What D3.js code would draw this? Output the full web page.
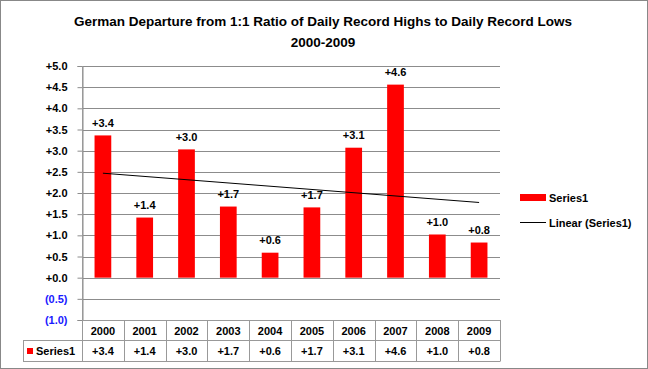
<!DOCTYPE html>
<html><head><meta charset="utf-8">
<script src="https://cdn.jsdelivr.net/npm/d3@7"></script>
<style>body{margin:0;background:#fff}svg{display:block}text{font-family:"Liberation Sans",Arial,sans-serif}</style>
</head><body><svg id="c" width="648" height="369"></svg>
<script>
const years = ["2000","2001","2002","2003","2004","2005","2006","2007","2008","2009"];
const values = [3.36, 1.42, 3.03, 1.68, 0.59, 1.66, 3.07, 4.56, 1.02, 0.83];
const tickValues = [-1, -0.5, 0, 0.5, 1, 1.5, 2, 2.5, 3, 3.5, 4, 4.5, 5];
const seriesName = "Series1";
const trendName = "Linear (Series1)";
const titleLines = ["German Departure from 1:1 Ratio of Daily Record Highs to Daily Record Lows", "2000-2009"];

const svg = d3.select("#c");
const fmt = v => v < 0 ? "(" + Math.abs(v).toFixed(1) + ")" : "+" + v.toFixed(1);

svg.append("rect").attr("x",0.5).attr("y",0.5).attr("width",647).attr("height",368)
  .attr("fill","#fff").attr("stroke","#888").attr("stroke-width",1);

const x = d3.scaleBand().domain(years).range([82, 500]).padding(0);
const y = d3.scaleLinear().domain([-1, 5]).range([320, 66]);

// title
svg.selectAll(".title").data(titleLines).join("text")
  .attr("x", 323).attr("y", (d,i) => 26 + i*21)
  .attr("text-anchor","middle").attr("font-weight","bold").attr("font-size", 13.5)
  .attr("fill","#000").text(d => d);

// gridlines
svg.append("g").selectAll("line").data(tickValues).join("line")
  .attr("x1", 82).attr("x2", 500)
  .attr("y1", d => Math.round(y(d))+0.5).attr("y2", d => Math.round(y(d))+0.5)
  .attr("stroke","#8c8c8c").attr("stroke-width",1);

// y axis
const yAxis = d3.axisLeft(y).tickValues(tickValues).tickSize(5).tickPadding(10).tickFormat(fmt);
const ga = svg.append("g").attr("transform","translate(82.5,0)").call(yAxis);
ga.select(".domain").attr("stroke","#8c8c8c");
ga.selectAll(".tick line").attr("stroke","#8c8c8c");
ga.selectAll(".tick text").attr("font-size",11).attr("font-weight","bold")
  .attr("font-family",'"Liberation Sans",Arial,sans-serif')
  .attr("fill", d => d < 0 ? "#1a1aff" : "#000");

// bars
const bw = x.bandwidth()*0.4;
svg.append("g").selectAll("rect").data(values).join("rect")
  .attr("x", (d,i) => x(years[i]) + (x.bandwidth()-bw)/2)
  .attr("y", d => y(d)).attr("width", bw).attr("height", d => y(0)-y(d))
  .attr("fill","#ff0000");

// data labels
svg.append("g").selectAll("text").data(values).join("text")
  .attr("x", (d,i) => x(years[i]) + x.bandwidth()/2)
  .attr("y", d => y(d) - 8.5)
  .attr("text-anchor","middle").attr("font-size",11).attr("font-weight","bold")
  .text(d => fmt(d));

// linear trend
const n = values.length, xs = d3.range(n);
const mx = d3.mean(xs), my = d3.mean(values);
const slope = d3.sum(xs, i => (i-mx)*(values[i]-my)) / d3.sum(xs, i => (i-mx)*(i-mx));
const icpt = my - slope*mx;
svg.append("line")
  .attr("x1", x(years[0]) + x.bandwidth()/2).attr("y1", y(icpt))
  .attr("x2", x(years[n-1]) + x.bandwidth()/2).attr("y2", y(icpt + slope*(n-1)))
  .attr("stroke","#000").attr("stroke-width",1);

// data table
const tTop = 320, tMid = 340.5, tBot = 361.5;
const tg = svg.append("g");
const gray = "#999";
tg.append("line").attr("x1",82).attr("x2",500).attr("y1",tTop+0.5).attr("y2",tTop+0.5).attr("stroke",gray);
tg.append("line").attr("x1",23).attr("x2",500).attr("y1",tMid).attr("y2",tMid).attr("stroke",gray);
tg.append("line").attr("x1",23).attr("x2",500).attr("y1",tBot).attr("y2",tBot).attr("stroke",gray);
tg.append("line").attr("x1",23.5).attr("x2",23.5).attr("y1",tMid).attr("y2",tBot).attr("stroke",gray);
const edges = years.map(yy => x(yy)).concat([500]);
tg.selectAll(".v").data(edges).join("line")
  .attr("x1", d => Math.round(d)+0.5).attr("x2", d => Math.round(d)+0.5)
  .attr("y1", (d,i) => i===0 ? 66 : tTop).attr("y2", tBot).attr("stroke",gray);
tg.selectAll(".yr").data(years).join("text")
  .attr("x", d => x(d)+x.bandwidth()/2).attr("y", 334.5)
  .attr("text-anchor","middle").attr("font-size",11).attr("font-weight","bold").text(d => d);
tg.selectAll(".val").data(values).join("text")
  .attr("x", (d,i) => x(years[i])+x.bandwidth()/2).attr("y", 355)
  .attr("text-anchor","middle").attr("font-size",11).attr("font-weight","bold").text(d => fmt(d));
tg.append("rect").attr("x",27).attr("y",348).attr("width",6).attr("height",6).attr("fill","#ff0000");
tg.append("text").attr("x",36).attr("y",355).attr("font-size",11).attr("font-weight","bold").text(seriesName);

// legend
const lg = svg.append("g");
lg.append("rect").attr("x",520).attr("y",194).attr("width",26).attr("height",7).attr("fill","#ff0000");
lg.append("text").attr("x",549).attr("y",202).attr("font-size",11).attr("font-weight","bold").text(seriesName);
lg.append("line").attr("x1",520).attr("x2",546).attr("y1",222.5).attr("y2",222.5).attr("stroke","#000");
lg.append("text").attr("x",549).attr("y",226.5).attr("font-size",11).attr("font-weight","bold").text(trendName);
</script></body></html>
